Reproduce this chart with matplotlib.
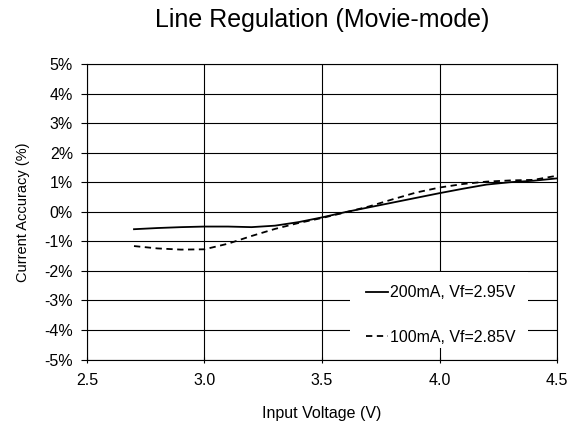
import matplotlib.pyplot as plt
from matplotlib.patches import Rectangle
from matplotlib.ticker import FuncFormatter

plt.rcParams['font.family'] = ['Liberation Sans', 'DejaVu Sans']

# input voltage (V)
vin = [2.7, 2.8, 2.9, 3.0, 3.1, 3.2, 3.3, 3.4, 3.5, 3.6,
       3.7, 3.8, 3.9, 4.0, 4.1, 4.2, 4.3, 4.4, 4.5]
# current accuracy (%)
acc_200mA = [-0.59, -0.55, -0.52, -0.50, -0.50, -0.52, -0.47, -0.35, -0.19, -0.01,
             0.15, 0.31, 0.47, 0.63, 0.78, 0.92, 1.00, 1.05, 1.13]
acc_100mA = [-1.16, -1.24, -1.28, -1.27, -1.08, -0.82, -0.58, -0.38, -0.21, -0.02,
             0.18, 0.42, 0.65, 0.82, 0.94, 1.02, 1.06, 1.08, 1.22]
labels = ['200mA, Vf=2.95V', '100mA, Vf=2.85V']

fig = plt.figure(figsize=(5.78, 4.23), dpi=100)
ax = fig.add_axes([0.1505, 0.150, 0.8132, 0.6987])

ax.plot(vin, acc_200mA, color='black', lw=1.3, label=labels[0])
ax.plot(vin, acc_100mA, color='black', lw=1.3, dashes=(3.5, 2.5), label=labels[1])

ax.set_xlim(2.5, 4.5)
ax.set_ylim(-5, 5)
ax.set_xticks([2.5, 3.0, 3.5, 4.0, 4.5])
ax.set_yticks(range(-5, 6))
ax.xaxis.set_major_formatter(FuncFormatter(lambda v, p: f'{v:.1f}'))
ax.yaxis.set_major_formatter(FuncFormatter(lambda v, p: f'{v:.0f}%'))
ax.grid(True, color='black', lw=0.8)
for s in ax.spines.values():
    s.set_linewidth(0.8)
ax.tick_params(axis='y', direction='out', length=4, width=0.8, labelsize=11.5, pad=6)
ax.tick_params(axis='x', direction='inout', length=5, width=0.8, labelsize=11.5, pad=7)

ax.set_xlabel('Input Voltage (V)', fontsize=11.5, labelpad=13)
ax.set_ylabel('Current Accuracy (%)', fontsize=10.5, labelpad=10)
fig.text(0.557, 0.936, 'Line Regulation (Movie-mode)', fontsize=18,
         ha='center', va='baseline')

# white box behind the legend (hides the grid like the original)
ax.add_patch(Rectangle((0.56, 0.039), 0.378, 0.257, transform=ax.transAxes,
                       facecolor='white', edgecolor='none', zorder=1.8))
leg = ax.legend(loc='center', bbox_to_anchor=(0.752, 0.15), fontsize=11.5,
                frameon=False, handlelength=1.4, handletextpad=0.1,
                labelspacing=1.85, borderpad=0, borderaxespad=0)

fig.savefig('out.png', dpi=100)
